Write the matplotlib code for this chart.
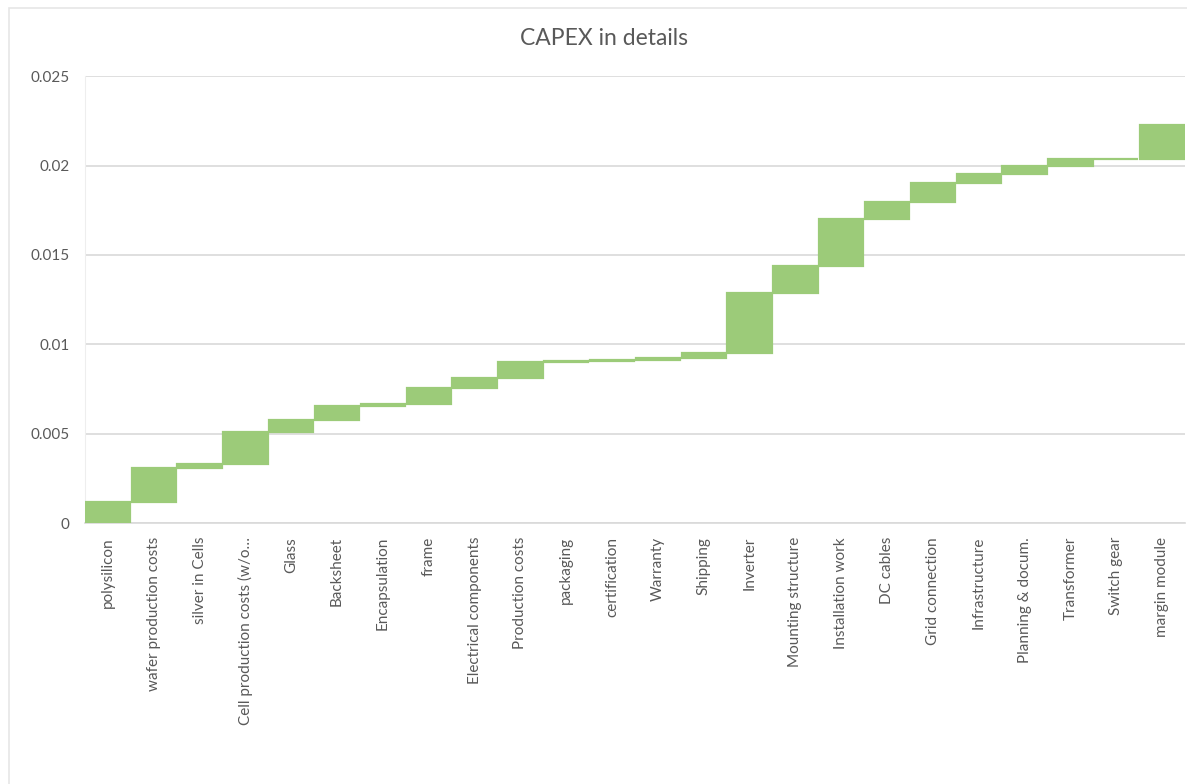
import numpy as np
import matplotlib
matplotlib.use('Agg')
import matplotlib.pyplot as plt
from matplotlib.patches import Rectangle

plt.rcParams['font.family'] = ['Lato', 'DejaVu Sans']

# cost items in the order they are stacked
categories = ['polysilicon', 'wafer production costs', 'silver in Cells',
              'Cell production costs (w/o…', 'Glass', 'Backsheet', 'Encapsulation',
              'frame', 'Electrical components', 'Production costs', 'packaging',
              'certification', 'Warranty', 'Shipping', 'Inverter',
              'Mounting structure', 'Installation work', 'DC cables',
              'Grid connection', 'Infrastructure', 'Planning & docum.',
              'Transformer', 'Switch gear', 'margin module']

# contribution of each item
costs = [0.0012, 0.0019, 0.0002, 0.0018, 0.00067, 0.0008, 0.0001, 0.00086,
         0.00057, 0.00093, 0.00004, 0.00004, 0.00014, 0.00028, 0.00333,
         0.00153, 0.00261, 0.00096, 0.00108, 0.00046, 0.00047, 0.00037,
         0.00003, 0.00192]

yticks = [0, 0.005, 0.01, 0.015, 0.02, 0.025]
ytick_labels = ['0', '0.005', '0.01', '0.015', '0.02', '0.025']

# waterfall: each bar starts where the previous one ended
tops = np.cumsum(costs)
bottoms = tops - np.array(costs)

fig = plt.figure(figsize=(11.87, 7.84), dpi=100)
ax = fig.add_axes([0.0716, 0.3329, 0.9267, 0.570])

x = np.arange(len(categories))
ax.bar(x, costs, bottom=bottoms, width=0.97, color='#9ccb79',
       edgecolor='#9ccb79', linewidth=1.6, zorder=3)

ax.set_xlim(-0.5, len(categories) - 0.5)
ax.set_ylim(0, 0.025)
ax.set_yticks(yticks)
ax.set_yticklabels(ytick_labels)
ax.set_xticks(x)
ax.set_xticklabels(categories, rotation=90, va='top', ha='center')

ax.grid(axis='y', color='#d9d9d9', linewidth=1.2, zorder=0)
ax.tick_params(axis='both', length=0, labelsize=11, labelcolor='#595959')
ax.tick_params(axis='y', pad=11)
ax.tick_params(axis='x', pad=10)
for side in ['top', 'right']:
    ax.spines[side].set_visible(False)
ax.spines['left'].set_color('#eeeeee')
ax.spines['bottom'].set_color('#d9d9d9')
ax.spines['bottom'].set_linewidth(1.2)

fig.text(0.509, 0.951, 'CAPEX in details', ha='center', va='center',
         fontsize=16.5, color='#595959')

# faint chart-area border, cut off at right and bottom
fig.patches.append(Rectangle((0.008, -0.1), 1.1, 1.09, transform=fig.transFigure,
                             fill=False, edgecolor='#e6e6e6', linewidth=1.2))

fig.savefig('out.png', dpi=100)
